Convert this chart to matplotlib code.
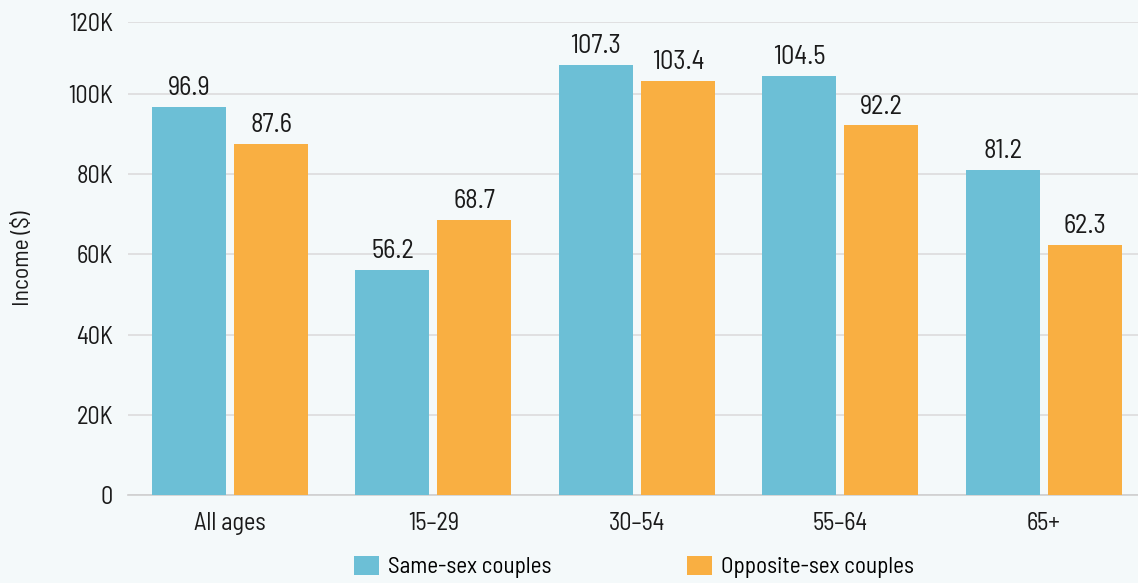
import matplotlib
matplotlib.use("Agg")
import matplotlib.pyplot as plt
import numpy as np

plt.rcParams["font.family"] = ["Barlow Semi Condensed", "DejaVu Sans"]

groups = ["All ages", "15\u201329", "30\u201354", "55\u201364", "65+"]
same_sex = [96.9, 56.2, 107.3, 104.5, 81.2]
opposite_sex = [87.6, 68.7, 103.4, 92.2, 62.3]
series_names = ["Same-sex couples", "Opposite-sex couples"]

# y axis: gridlines every 20K, the top line sits at the axis ceiling
y_top = 118000
y_ticks = [0, 20000, 40000, 60000, 80000, 100000, y_top]
y_labels = ["0", "20K", "40K", "60K", "80K", "100K", "120K"]

bg = "#f4f9fa"
blue = "#6cbfd6"
orange = "#f9af42"
ink = "#1a1a1a"

fig = plt.figure(figsize=(11.38, 5.83), dpi=100, facecolor=bg)
ax = fig.add_axes([0.1127, 0.1509, 0.894, 0.8114], facecolor=bg)

x = np.arange(len(groups))
w = 0.3636
off = 0.2015
b1 = ax.bar(x - off, np.array(same_sex) * 1000, w, color=blue, label=series_names[0], zorder=3)
b2 = ax.bar(x + off, np.array(opposite_sex) * 1000, w, color=orange, label=series_names[1], zorder=3)

# value labels above each bar
for bars, vals in ((b1, same_sex), (b2, opposite_sex)):
    for r, v in zip(bars, vals):
        ax.text(r.get_x() + r.get_width() / 2, r.get_height() + 1700, f"{v:.1f}",
                ha="center", va="bottom", fontsize=19, color=ink)

ax.set_xlim(-0.5, 4.5)
ax.set_ylim(0, y_top)
ax.set_yticks(y_ticks)
ax.set_yticklabels(y_labels)
ax.set_xticks(x)
ax.set_xticklabels(groups)
ax.tick_params(axis="both", length=0, labelsize=17.5, colors=ink)
ax.tick_params(axis="x", pad=12)
ax.tick_params(axis="y", pad=11)
ax.grid(axis="y", color="#dcdcdc", linewidth=1.2, zorder=0)
for s in ("top", "right", "left"):
    ax.spines[s].set_visible(False)
ax.spines["bottom"].set_color("#cfcfcf")
ax.spines["bottom"].set_linewidth(1.2)
ax.set_ylabel("Income ($)", fontsize=17, color=ink, labelpad=25)

fig.legend(handles=[b1, b2], loc="center", bbox_to_anchor=(634 / 1138, 16 / 583), ncol=2,
           frameon=False, fontsize=16.6, handlelength=1.08, handleheight=0.87,
           columnspacing=5.9, handletextpad=0.4)

fig.savefig("out.png", dpi=100, facecolor=bg)
